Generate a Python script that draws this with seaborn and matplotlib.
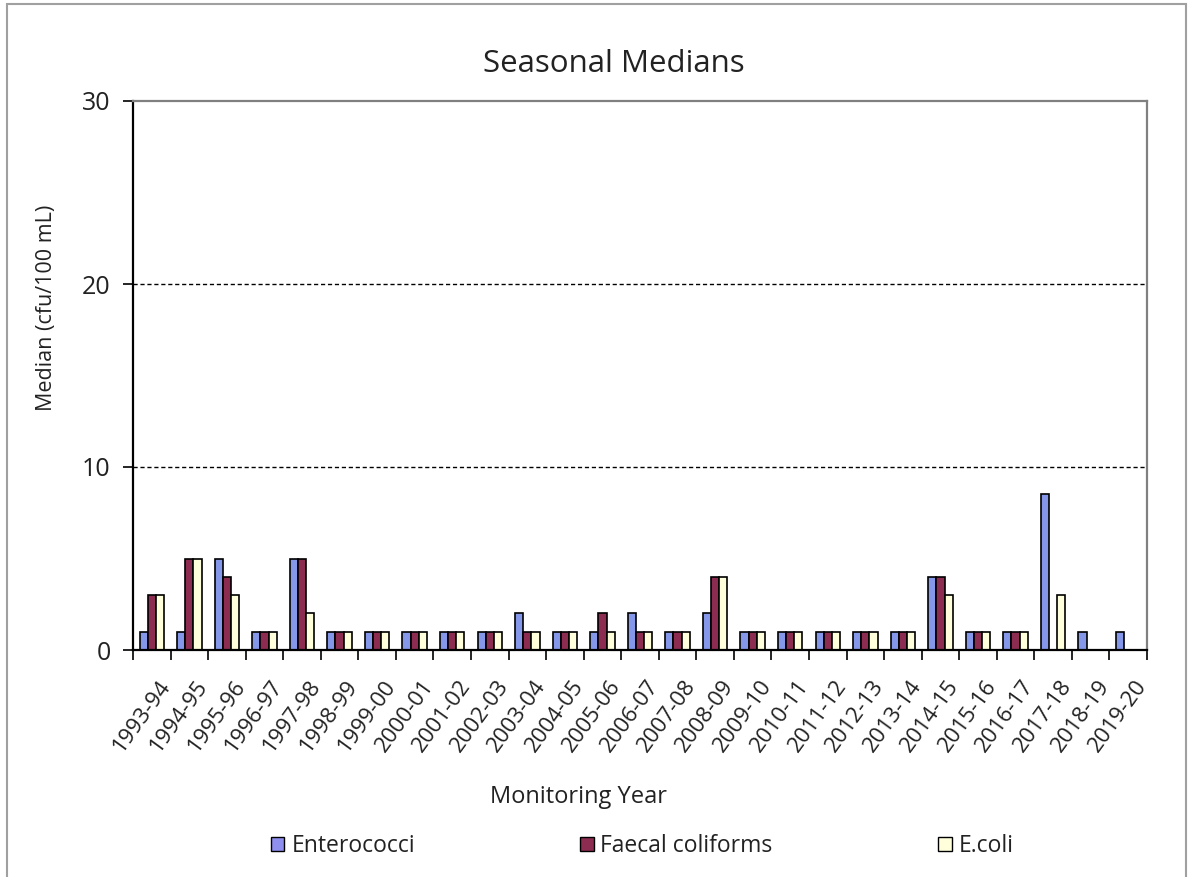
import matplotlib
matplotlib.use('Agg')
import matplotlib.pyplot as plt
import matplotlib.patches as mpatches
import matplotlib.transforms as mtransforms
import numpy as np
import pandas as pd
import seaborn as sns

# Data
years = ['1993-94', '1994-95', '1995-96', '1996-97', '1997-98', '1998-99', '1999-00',
         '2000-01', '2001-02', '2002-03', '2003-04', '2004-05', '2005-06', '2006-07',
         '2007-08', '2008-09', '2009-10', '2010-11', '2011-12', '2012-13', '2013-14',
         '2014-15', '2015-16', '2016-17', '2017-18', '2018-19', '2019-20']
enterococci = [1, 1, 5, 1, 5, 1, 1, 1, 1, 1, 2, 1, 1, 2, 1, 2, 1, 1, 1, 1, 1, 4, 1, 1, 8.5, 1, 1]
faecal = [3, 5, 4, 1, 5, 1, 1, 1, 1, 1, 1, 1, 2, 1, 1, 4, 1, 1, 1, 1, 1, 4, 1, 1, 0, 0, 0]
ecoli = [3, 5, 3, 1, 2, 1, 1, 1, 1, 1, 1, 1, 1, 1, 1, 4, 1, 1, 1, 1, 1, 3, 1, 1, 3, 0, 0]
series_names = ['Enterococci', 'Faecal coliforms', 'E.coli']
yticks = [0, 10, 20, 30]

df = pd.DataFrame({'year': years, 'Enterococci': enterococci,
                   'Faecal coliforms': faecal, 'E.coli': ecoli})
df_long = df.melt(id_vars='year', var_name='series', value_name='median')

sns.set_style('white')
plt.rcParams['font.family'] = ['Open Sans', 'DejaVu Sans']
txt_color = '#222222'

fig = plt.figure(figsize=(11.9, 8.77), dpi=100)
ax = fig.add_axes([133 / 1190, 1 - 650 / 877, (1147 - 133) / 1190, (650 - 101) / 877])

palette = {'Enterococci': '#8497e8', 'Faecal coliforms': '#8b2c50', 'E.coli': '#ffffdc'}
sns.barplot(data=df_long, x='year', y='median', hue='series', hue_order=series_names,
            order=years, palette=palette, width=0.65, edgecolor='black', linewidth=1.2,
            saturation=1, ax=ax)

ax.set_xlim(-0.5, len(years) - 0.5)
ax.set_ylim(0, 30)
ax.set_yticks(yticks)
ax.tick_params(axis='y', direction='out', length=7, width=1.2, color='black',
               labelsize=18, pad=9, left=True, labelcolor=txt_color)
ax.tick_params(axis='x', which='major', length=0, labelsize=16, pad=19, labelcolor=txt_color)
ax.set_xticks(np.arange(-0.5, len(years)), minor=True)
ax.tick_params(axis='x', which='minor', direction='out', length=7, width=1.2,
               color='black', bottom=True)
shift = mtransforms.ScaledTranslation(6 / 100, 0, fig.dpi_scale_trans)
for lbl in ax.get_xticklabels():
    lbl.set_rotation(54)
    lbl.set_ha('right')
    lbl.set_rotation_mode('anchor')
    lbl.set_transform(lbl.get_transform() + shift)

for v in [10, 20]:
    ax.axhline(v, color='black', lw=1, ls=(0, (3, 2)), zorder=0)

for side in ['left', 'bottom']:
    ax.spines[side].set_color('black')
    ax.spines[side].set_linewidth(1.6)
for side in ['top', 'right']:
    ax.spines[side].set_color('#808080')
    ax.spines[side].set_linewidth(1.6)

ax.set_xlabel('')
ax.set_ylabel('')
fig.text(47 / 1190, 1 - 308 / 877, 'Median (cfu/100 mL)', fontsize=15.5, rotation=90,
         ha='center', va='center', color=txt_color)
fig.text(578 / 1190, 1 - 803 / 877, 'Monitoring Year', fontsize=17, ha='center',
         va='baseline', color=txt_color)
fig.text(614 / 1190, 1 - 72 / 877, 'Seasonal Medians', fontsize=22.5, ha='center',
         va='baseline', color=txt_color)

handles = [mpatches.Patch(facecolor=palette[s] if s != 'Enterococci' else '#8f8ff0',
                          edgecolor='black', linewidth=1) for s in series_names]
leg = ax.legend(handles, series_names, loc='center', bbox_to_anchor=(642 / 1190, 1 - 846 / 877),
                bbox_transform=fig.transFigure, ncol=3, frameon=False, fontsize=16.5,
                handlelength=0.6, handleheight=0.6, handletextpad=0.3, columnspacing=7.2)
for t in leg.get_texts():
    t.set_color(txt_color)

fig.patches.append(mpatches.Rectangle((7 / 1190, -0.01), 1179 / 1190, 1.01 - 4 / 877,
                                      transform=fig.transFigure, fill=False,
                                      edgecolor='#a0a0a0', lw=1.5))

fig.savefig('out.png', dpi=100)
